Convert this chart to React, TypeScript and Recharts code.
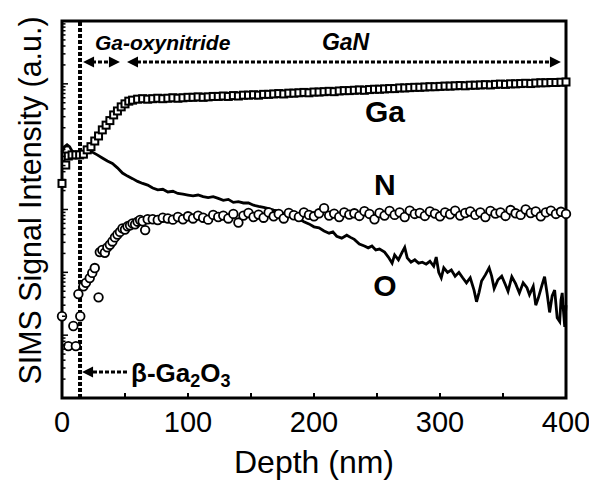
import {
  ComposedChart,
  Line,
  Scatter,
  XAxis,
  YAxis,
  ReferenceLine,
  ReferenceDot,
  ReferenceArea,
} from 'recharts';

const FONT = '"Liberation Sans", Arial, Helvetica, sans-serif';

// Depth axis ticks (nm), labels only every 100
const xTicks = [0, 50, 100, 150, 200, 250, 300, 350, 400];
const xLabels = [0, 100, 200, 300, 400];

// Log intensity axis: decades + minor multipliers (no labels in the figure)
const yDecades = [1, 10, 100, 1000, 10000, 100000, 1000000];
const yMinor = [2, 3, 4, 5, 6, 7, 8, 9];

// Ga (open squares)
const gaDepth = [
  0, 3, 5, 8, 11, 14, 17, 20, 23, 26, 29, 32, 35, 38, 41, 44, 47, 50, 53, 56,
  60, 64, 68, 72, 76, 80, 84, 88, 92, 96, 100, 104, 108, 112, 116, 120, 124, 128, 132, 136,
  140, 144, 148, 152, 156, 160, 164, 168, 172, 176, 180, 184, 188, 192, 196, 200, 204, 208, 212, 216,
  220, 224, 228, 232, 236, 240, 244, 248, 252, 256, 260, 264, 268, 272, 276, 280, 284, 288, 292, 296,
  300, 304, 308, 312, 316, 320, 324, 328, 332, 336, 340, 344, 348, 352, 356, 360, 364, 368, 372, 376,
  380, 384, 388, 392, 396, 400,
];
const gaValue = [
  2600, 5100, 7100, 7400, 7400, 7400, 7600, 8900, 10000, 12300, 14800, 18500, 22000, 26000, 32000, 37000, 43000, 48000, 53000, 55000,
  57000, 58000, 57000, 58000, 59000, 58000, 59000, 60000, 59000, 60000, 61000, 61000, 62000, 61000, 62000, 63000, 63000, 64000, 63000, 65000,
  64000, 66000, 66000, 67000, 66000, 68000, 68000, 69000, 70000, 69000, 71000, 71000, 72000, 73000, 72000, 74000, 74000, 75000, 76000, 75000,
  77000, 78000, 78000, 79000, 80000, 79000, 81000, 82000, 82000, 83000, 84000, 84000, 86000, 86000, 87000, 88000, 88000, 89000, 90000, 90000,
  91000, 92000, 92000, 93000, 94000, 93000, 95000, 95000, 96000, 97000, 96000, 98000, 99000, 98000, 100000, 100000, 101000, 102000, 101000, 103000,
  104000, 104000, 105000, 105000, 106000, 107000,
];

// N (open circles)
const nDepth = [
  0, 5, 9, 11, 13, 14.5, 17, 19, 22, 24, 26, 29, 30, 32, 34, 36, 38, 40, 42, 44,
  46, 48, 50, 52, 54, 56, 58, 60, 62, 64, 66, 68,
  72, 76, 80, 84, 88, 92, 96, 100, 104, 108, 112, 116, 120, 124, 128, 132, 136, 140,
  144, 148, 152, 156, 160, 164, 168, 172, 176, 180, 184, 188, 192, 196, 200, 204, 208, 212,
  216, 220, 224, 228, 232, 236, 240, 244, 248, 252, 256, 260, 264, 268, 272, 276, 280, 284,
  288, 292, 296, 300, 304, 308, 312, 316, 320, 324, 328, 332, 336, 340, 344, 348, 352, 356,
  360, 364, 368, 372, 376, 380, 384, 388, 392, 396, 400,
];
const nValue = [
  20, 6.7, 14, 6.7, 45, 20, 60, 68, 81, 98, 117, 40, 210, 227, 205, 250, 275, 310, 360, 400,
  440, 500, 480, 540, 560, 600, 580, 640, 680, 650, 470, 700,
  700, 680, 740, 720, 690, 760, 700, 780, 720, 800, 740, 690, 820, 760, 800, 720, 850, 620,
  800, 880, 760, 830, 740, 900, 780, 850, 720, 880, 810, 760, 900, 820, 780, 870, 1050, 800,
  860, 760, 900, 830, 870, 790, 940, 850, 700, 880, 800, 950, 820, 900, 760, 960, 850, 880,
  790, 930, 860, 780, 900, 840, 960, 800, 880, 930, 820, 900, 760, 950, 860, 900, 790, 980,
  870, 820, 1000, 880, 930, 780, 900, 960, 850, 920, 850,
];

// O (solid line)
const oDepth = [
  0, 2, 4, 6, 8, 11, 14, 17, 20, 24, 28, 32, 36, 40, 44, 48, 52, 56, 60, 64,
  68, 72, 76, 80, 84, 88, 92, 96, 100, 104, 108, 112, 116, 120, 124, 128, 132, 136, 140, 144,
  148, 152, 156, 160, 164, 168, 172, 176, 180, 184, 188, 192, 196, 200, 204, 208, 212, 215, 218, 222,
  226, 229, 232, 236, 240, 243, 246, 249, 252, 256, 259, 262, 264, 267, 270, 272, 274, 277, 280, 283,
  286, 289, 292, 295, 297, 299, 301, 303, 306, 309, 312, 315, 318, 321, 324, 327, 329, 331, 333, 336,
  339, 341, 343, 346, 349, 352, 354, 357, 360, 363, 366, 369, 371, 374, 376, 378, 381, 383, 385, 387,
  389, 391, 393, 395, 396, 397, 398, 399, 400,
];
const oValue = [
  8200, 10000, 10700, 10000, 8500, 7600, 7400, 7600, 8200, 8200, 7400, 6600, 5900, 5400, 4600, 3800, 3400, 3100, 2800, 2600,
  2450, 2200, 2050, 2100, 1900, 1950, 1800, 1750, 1700, 1650, 1700, 1600, 1550, 1600, 1500, 1400, 1450, 1300, 1330, 1270,
  1270, 1170, 1120, 1080, 1030, 980, 940, 860, 815, 780, 710, 640, 590, 530, 510, 455, 420, 440, 375, 350,
  390, 360, 335, 283, 262, 245, 262, 227, 235, 210, 175, 140, 189, 158, 210, 250, 170, 145, 158, 140,
  145, 135, 150, 125, 175, 100, 82, 118, 100, 109, 87, 100, 82, 68, 82, 52, 34, 48, 73, 91,
  118, 87, 55, 76, 87, 63, 50, 85, 66, 47, 68, 57, 44, 60, 30, 39, 63, 85, 46, 23,
  42, 52, 19, 16.5, 36, 47, 24, 13.5, 30,
];

const gaData = gaDepth.map((depth, i) => ({ depth, ga: gaValue[i] }));
const nData = nDepth.map((depth, i) => ({ depth, n: nValue[i] }));
const oData = oDepth.map((depth, i) => ({ depth, o: oValue[i] }));

const yTicks: number[] = [];
yDecades.forEach((d, i) => {
  yTicks.push(d);
  if (i < yDecades.length - 1) yMinor.forEach((m) => yTicks.push(m * d));
});

// annotation anchors in data coordinates
const VLINE_X = 14.3;
const TOP_ARROW_Y = 2.23e5;
const BETA_ARROW_Y = 2.6;

const XTick = ({ x, y, payload }: any) => (
  <g>
    <line x1={x} x2={x} y1={y} y2={y - 5} stroke="#000" strokeWidth={2} />
    {xLabels.includes(payload.value) && (
      <text x={x} y={y + 34} textAnchor="middle" fontSize={29} fontFamily={FONT} fill="#000">
        {payload.value}
      </text>
    )}
  </g>
);

const YTick = ({ x, y, payload }: any) => {
  const major = yDecades.includes(payload.value);
  return <line x1={x} x2={x + (major ? 6 : 3.5)} y1={y} y2={y} stroke="#000" strokeWidth={1.5} />;
};

const Square = (p: any) => (
  <rect x={p.cx - 3.5} y={p.cy - 3.5} width={7} height={7} fill="#fff" stroke="#000" strokeWidth={2} />
);
const Circle = (p: any) => <circle cx={p.cx} cy={p.cy} r={4.3} fill="#fff" stroke="#000" strokeWidth={1.8} />;

const arrowHead = (dir: number) => (p: any) => (
  <path
    d={`M${p.cx},${p.cy} L${p.cx - dir * 11},${p.cy - 5.5} L${p.cx - dir * 11},${p.cy + 5.5} Z`}
    fill="#000"
  />
);

const label = (text: string, size: number, italic = false, anchor = 'middle') => (p: any) => (
  <text
    x={p.cx}
    y={p.cy}
    textAnchor={anchor}
    fontSize={size}
    fontWeight="bold"
    fontStyle={italic ? 'italic' : 'normal'}
    fontFamily={FONT}
    fill="#000"
  >
    {text}
  </text>
);

const BetaLabel = (p: any) => (
  <text x={p.cx} y={p.cy} fontSize={26} fontWeight="bold" fontFamily={FONT} fill="#000">
    <tspan>β-Ga</tspan>
    <tspan fontSize={18} dy={5}>2</tspan>
    <tspan dy={-5}>O</tspan>
    <tspan fontSize={18} dy={5}>3</tspan>
  </text>
);

const dotted = { stroke: '#000', strokeWidth: 3, strokeDasharray: '4 2' };

export default function App() {
  return (
    <div style={{ position: 'absolute', left: 0, top: 0, background: '#fff' }}>
      <ComposedChart width={589} height={486} margin={{ top: 21, right: 23, bottom: 0, left: 0 }}>
        <XAxis
          type="number"
          dataKey="depth"
          domain={[0, 400]}
          ticks={xTicks}
          interval={0}
          tick={<XTick />}
          tickLine={false}
          tickSize={0}
          tickMargin={0}
          axisLine={false}
          height={88}
          label={(props: any) => {
            const vb = props.viewBox;
            return (
              <text x={vb.x + vb.width / 2} y={vb.y + 75} textAnchor="middle" fontSize={32} fontFamily={FONT} fill="#000">
                Depth (nm)
              </text>
            );
          }}
        />
        <YAxis
          type="number"
          scale="log"
          domain={[1, 1000000]}
          ticks={yTicks}
          interval={0}
          tick={<YTick />}
          tickLine={false}
          tickSize={0}
          tickMargin={0}
          axisLine={false}
          width={62}
          label={(props: any) => {
            const vb = props.viewBox;
            const cx = vb.x + 41;
            const cy = vb.y + vb.height / 2 - 9;
            return (
              <text
                x={cx}
                y={cy}
                transform={`rotate(-90, ${cx}, ${cy})`}
                textAnchor="middle"
                fontSize={32}
                fontFamily={FONT}
                fill="#000"
                textLength={368}
                lengthAdjust="spacingAndGlyphs"
              >
                SIMS Signal Intensity (a.u.)
              </text>
            );
          }}
        />
        <ReferenceArea x1={0} x2={400} y1={1} y2={1000000} fill="none" stroke="#000" strokeWidth={3} />
        <ReferenceLine x={VLINE_X} stroke="#000" strokeWidth={4} strokeDasharray="4 2" />

        <Line
          data={oData}
          dataKey="o"
          type="linear"
          stroke="#000"
          strokeWidth={2.8}
          dot={false}
          isAnimationActive={false}
        />
        <Scatter data={gaData} dataKey="ga" shape={Square} isAnimationActive={false} />
        <Scatter data={nData} dataKey="n" shape={Circle} isAnimationActive={false} />

        {/* top region arrows */}
        <ReferenceLine segment={[{ x: 23.8, y: TOP_ARROW_Y }, { x: 38.1, y: TOP_ARROW_Y }]} {...dotted} />
        <ReferenceLine segment={[{ x: 59.5, y: TOP_ARROW_Y }, { x: 387, y: TOP_ARROW_Y }]} {...dotted} />
        <ReferenceDot x={16.7} y={TOP_ARROW_Y} r={1} shape={arrowHead(-1)} />
        <ReferenceDot x={46} y={TOP_ARROW_Y} r={1} shape={arrowHead(1)} />
        <ReferenceDot x={51.6} y={TOP_ARROW_Y} r={1} shape={arrowHead(-1)} />
        <ReferenceDot x={396} y={TOP_ARROW_Y} r={1} shape={arrowHead(1)} />
        <ReferenceDot x={26.2} y={3.46e5} r={1} shape={label('Ga-oxynitride', 21, true, 'start')} />
        <ReferenceDot x={206.3} y={3.46e5} r={1} shape={label('GaN', 23, true, 'start')} />

        {/* beta-Ga2O3 arrow */}
        <ReferenceLine segment={[{ x: 24.6, y: BETA_ARROW_Y }, { x: 52.4, y: BETA_ARROW_Y }]} {...dotted} />
        <ReferenceDot x={15.9} y={BETA_ARROW_Y} r={1} shape={arrowHead(-1)} />
        <ReferenceDot x={54.8} y={1.8} r={1} shape={BetaLabel} />

        {/* element labels */}
        <ReferenceDot x={256.3} y={2.47e4} r={1} shape={label('Ga', 30)} />
        <ReferenceDot x={256.3} y={1.7e3} r={1} shape={label('N', 30)} />
        <ReferenceDot x={256.3} y={42} r={1} shape={label('O', 30)} />
      </ComposedChart>
    </div>
  );
}
